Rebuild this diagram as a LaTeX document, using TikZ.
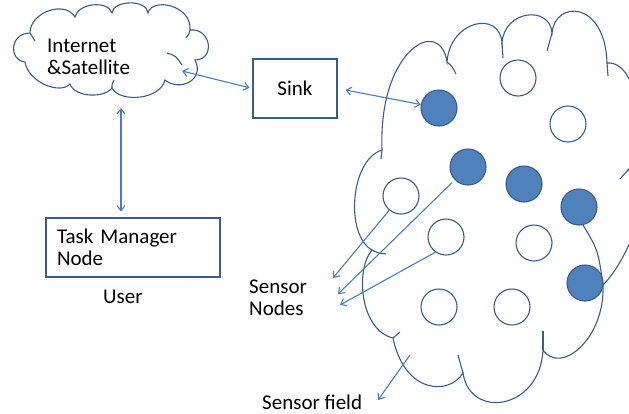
\documentclass[tikz,border=0pt]{standalone}
\usepackage{fontspec}
\setmainfont{Carlito}
\usetikzlibrary{positioning,calc,arrows.meta}
\definecolor{wsn_line}{HTML}{385D8A}
\definecolor{wsn_fill}{HTML}{4F81BD}
\definecolor{wsn_arrow}{HTML}{4A7EBB}
\tikzset{BOX/.style={rectangle,draw=wsn_line,line width=1.1pt,minimum height=59pt,font=\fontsize{21}{22}\selectfont}}
\tikzset{SENSOR/.style={circle,draw=wsn_line,line width=1.1pt,fill=white,minimum size=36pt,inner sep=0pt}}
\tikzset{HEAD/.style={SENSOR,fill=wsn_fill}}
\tikzset{CLOUD/.style={draw=wsn_line,line width=1.1pt}}
\tikzset{ARROW/.style={draw=wsn_arrow,line width=1.1pt,-{Straight Barb[length=5pt,width=8pt]}}}
\tikzset{DARROW/.style={ARROW,{Straight Barb[length=5pt,width=8pt]}-{Straight Barb[length=5pt,width=8pt]}}}
\tikzset{LABEL/.style={inner sep=0pt,align=left,anchor=base west,font=\fontsize{21}{22}\selectfont}}

\begin{document}
\begin{tikzpicture}[x=1pt,y=-1pt]

\useasboundingbox (0,0) rectangle (629,413);
\clip (0,0) rectangle (629,413);

\draw[CLOUD] (30,33) .. controls (30,12) and (65,0) .. (75,17)
  .. controls (78,3) and (108,0) .. (112,13)
  .. controls (113,0) and (147,-1) .. (148,13)
  .. controls (152,-3) and (192,5) .. (190,30)
  .. controls (212,28) and (215,60) .. (195,60)
  .. controls (205,80) and (180,92) .. (165,80)
  .. controls (160,100) and (120,103) .. (112,88)
  .. controls (105,98) and (75,98) .. (70,84)
  .. controls (60,95) and (28,82) .. (25,62)
  .. controls (8,60) and (10,33) .. cycle;
\draw[CLOUD] (30,33) .. controls (32,37) .. (35,41);
\draw[CLOUD] (190,30) .. controls (189,34) .. (186,38);
\draw[CLOUD] (182,65) .. controls (176,56) .. (167,53);
\draw[CLOUD] (112,88) .. controls (112,84) .. (114,80);

\node[LABEL] (n_inet) at (47,74) {Internet\\\&Satellite};
\coordinate (c_inet_e) at (182,71);
\coordinate (c_inet_s) at (121,108);

\draw[CLOUD] (382,150) .. controls (378,50) and (440,15) .. (447,62)
  .. controls (450,20) and (500,10) .. (502,43)
  .. controls (504,10) and (550,5) .. (552,33)
  .. controls (555,0) and (605,0) .. (607,63)
  .. controls (640,60) and (650,150) .. (628,170)
  .. controls (660,180) and (630,258) .. (603,285)
  .. controls (605,340) and (560,375) .. (543,350)
  .. controls (540,410) and (470,420) .. (463,373)
  .. controls (450,395) and (405,395) .. (393,338)
  .. controls (360,330) and (355,270) .. (372,250)
  .. controls (345,235) and (350,160) .. cycle;
\draw[CLOUD] (447,62) .. controls (452,66) .. (456,74);
\draw[CLOUD] (502,43) .. controls (503,50) .. (503,58);
\draw[CLOUD] (552,33) .. controls (549,42) .. (547,51);
\draw[CLOUD] (607,63) .. controls (608,70) .. (608,76);
\draw[CLOUD] (628,170) .. controls (624,174) .. (620,179);
\draw[CLOUD] (603,285) .. controls (598,250) .. (583,225);
\draw[CLOUD] (543,350) .. controls (543,340) .. (543,331);
\draw[CLOUD] (463,373) .. controls (461,364) .. (458,355);
\draw[CLOUD] (393,338) .. controls (396,335) .. (400,332);
\draw[CLOUD] (372,250) .. controls (378,253) .. (386,254);
\draw[CLOUD] (382,150) .. controls (381,155) .. (381,159);

\node[HEAD] (n_s1) at (439,108) {};
\node[SENSOR] (n_s2) at (518,78) {};
\node[SENSOR] (n_s3) at (568,124) {};
\node[HEAD] (n_s4) at (468,167) {};
\node[HEAD] (n_s5) at (524,184) {};
\node[HEAD] (n_s6) at (579,207) {};
\node[SENSOR] (n_s7) at (401,196) {};
\node[SENSOR] (n_s8) at (446,237) {};
\node[SENSOR] (n_s9) at (534,243) {};
\node[HEAD] (n_s10) at (585,283) {};
\node[SENSOR] (n_s11) at (439,307) {};
\node[SENSOR] (n_s12) at (512,307) {};

\node[BOX, minimum width=84pt] (n_sink) at (295,88.5) {Sink};
\node[BOX, text width=152pt, inner xsep=11pt, align=left] (n_task) at (133,247.5) {Task Manager\\Node};
\node[LABEL] (n_user) at (103,303) {User};
\node[LABEL] (n_sensors) at (249,315) {Sensor\\Nodes};
\node[LABEL] (n_field) at (262,409) {Sensor field};

\coordinate (c_sn_a) at (333,278);
\coordinate (c_sn_b) at (338,294);
\coordinate (c_sn_c) at (340,305);
\coordinate (c_field_a) at (410,355);
\coordinate (c_field_b) at (378,400);

\draw[DARROW, shorten >=3pt] (c_inet_e) -- (n_sink.west);
\draw[DARROW, shorten >=6pt] (c_inet_s) -- (c_inet_s|-n_task.north);
\draw[DARROW, shorten <=8pt] (n_sink.east) -- (n_s1);
\draw[ARROW] (n_s7) -- (c_sn_a);
\draw[ARROW, shorten <=4pt] (n_s4) -- (c_sn_b);
\draw[ARROW] (n_s8.235) -- (c_sn_c);
\draw[ARROW] (c_field_a) -- (c_field_b);

\end{tikzpicture}
\end{document}
